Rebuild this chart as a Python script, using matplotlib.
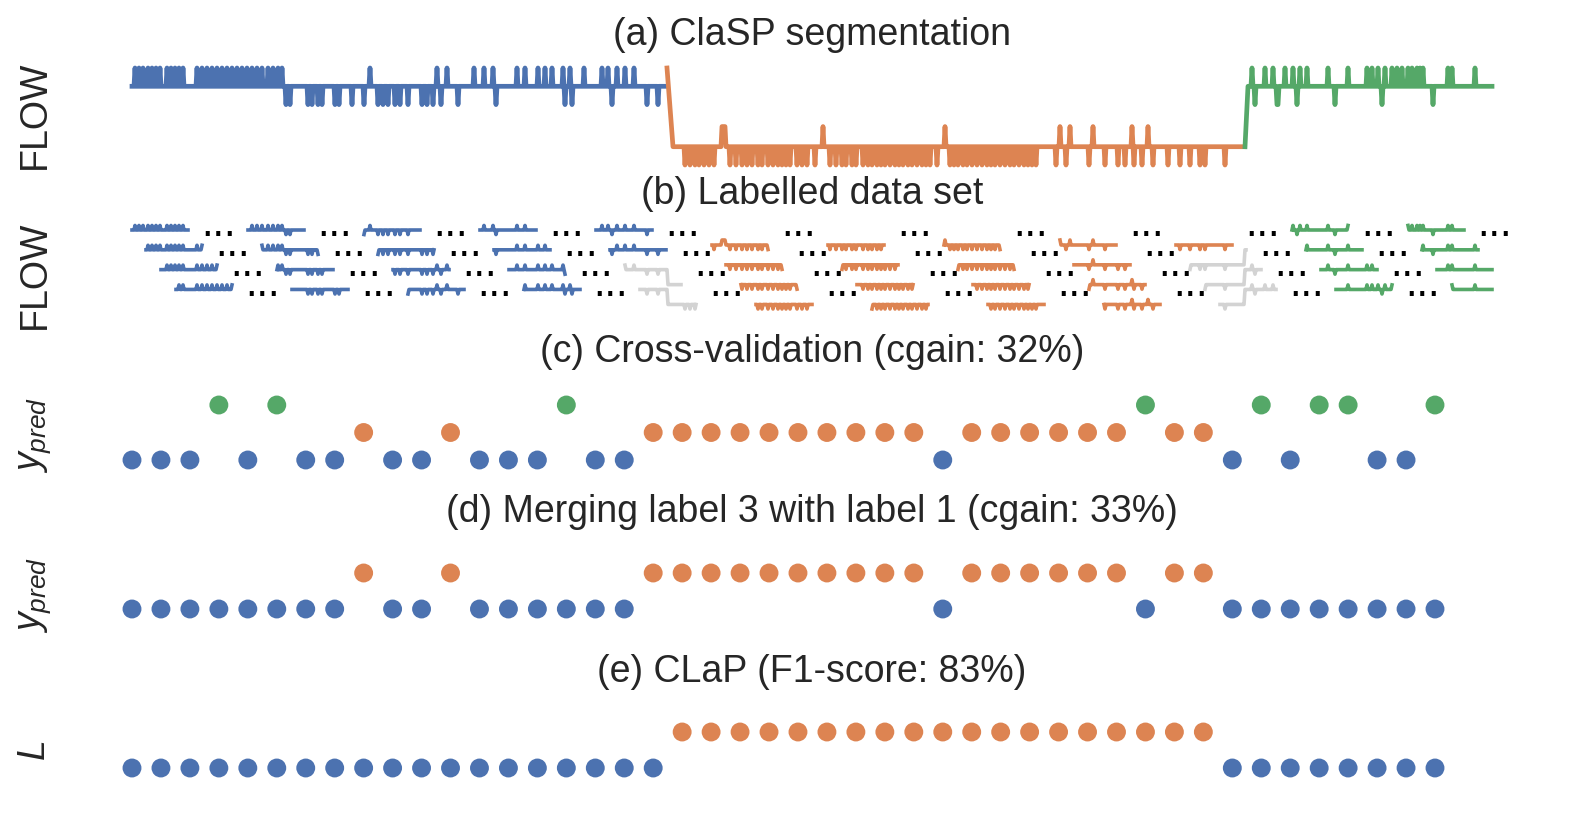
import numpy as np
import matplotlib
matplotlib.use("Agg")
import matplotlib.pyplot as plt

plt.rcParams['font.family'] = ['Liberation Sans', 'DejaVu Sans']
plt.rcParams['mathtext.fontset'] = 'custom'
plt.rcParams['mathtext.it'] = 'Liberation Sans:italic'
plt.rcParams['mathtext.rm'] = 'Liberation Sans'

BLUE, ORANGE, GREEN, GREY = "#4C72B0", "#DD8452", "#55A868", "#D3D3D3"
TEXT = "#262626"

# FLOW series; x in samples 0..1360
n_samples = 1360
change_points = [536, 1113]
seg_colors = [BLUE, ORANGE, GREEN]
seg_base = [1.0, -2.3, 1.0]
seg_high = [2.0, -1.2, 2.0]
seg_low = [0.0, -3.3, 0.0]

blue_up = [3, 7, 11, 16, 20, 24, 28, 35, 39, 43, 47, 51,
           65, 70, 75, 80, 85, 90, 95, 100, 105, 110, 115, 120, 125, 130, 136, 141, 146, 150,
           238, 305, 315, 342, 352, 361, 385, 393, 406, 413, 420, 431, 438, 452,
           470, 476, 485, 493, 502]
blue_down = [154, 158, 176, 180, 186, 190, 203, 207, 220, 232, 246, 251, 256, 263, 268, 276,
             290, 295, 301, 309, 326, 364, 433, 440, 480, 515, 526]
orange_up = [590, 591, 592, 593, 691, 813, 928, 938, 961, 1000, 1016]
orange_down = [553, 558, 563, 567, 572, 577, 582, 598, 604, 610, 615, 620, 626, 630, 636, 641,
               646, 650, 654, 658, 665, 670, 675, 683, 698, 704, 710, 714, 720, 724, 731, 736,
               740, 745, 749, 753, 758, 763, 767, 771, 776, 780, 785, 790, 794, 798, 805, 818,
               822, 826, 831, 835, 840, 845, 850, 855, 859, 863, 868, 873, 878, 882, 887, 892,
               896, 900, 904, 924, 934, 957, 973, 986, 993, 1002, 1010, 1021, 1036, 1048, 1058,
               1068, 1073, 1093]
green_up = [1120, 1133, 1141, 1153, 1161, 1168, 1175, 1196, 1216, 1235, 1240, 1246, 1253, 1260,
            1265, 1270, 1276, 1280, 1285, 1288, 1291, 1316, 1320, 1343]
green_down = [1123, 1145, 1146, 1165, 1203, 1250, 1301]

# where each segment line starts: (x, level) before it joins its own samples at x_join
seg_lead = [None, (535, 2.0, 541), (1113, -2.3, 1116)]

# labelled windows of panel (b)
win_len = 57
win_shift = 14.5
win_stride = 116
n_groups = 12
n_rows = 4

# per-window labels of panels (c)-(e): 1 = blue, 2 = orange, 3 = green
pred_cv = [1, 1, 1, 3, 1, 3, 1, 1, 2, 1, 1, 2, 1, 1, 1, 3, 1, 1, 2, 2, 2, 2, 2, 2,
           2, 2, 2, 2, 1, 2, 2, 2, 2, 2, 2, 3, 2, 2, 1, 3, 1, 3, 3, 1, 1, 3]
pred_merged = [1, 1, 1, 1, 1, 1, 1, 1, 2, 1, 1, 2, 1, 1, 1, 1, 1, 1, 2, 2, 2, 2, 2, 2,
               2, 2, 2, 2, 1, 2, 2, 2, 2, 2, 2, 1, 2, 2, 1, 1, 1, 1, 1, 1, 1, 1]
clap_labels = [1] * 19 + [2] * 19 + [1] * 8
label_colors = {1: BLUE, 2: ORANGE, 3: GREEN}

titles = ["(a) ClaSP segmentation", "(b) Labelled data set",
          "(c) Cross-validation (cgain: 32%)",
          "(d) Merging label 3 with label 1 (cgain: 33%)",
          "(e) CLaP (F1-score: 83%)"]
ylabels = ["FLOW", "FLOW", "$y_{pred}$", "$y_{pred}$", "$L$"]

# build the series from the read levels
t = np.arange(n_samples + 1)
ts = np.empty(n_samples + 1)
bounds = [0] + change_points + [n_samples + 1]
spikes = [(blue_up, blue_down), (orange_up, orange_down), (green_up, green_down)]
for k in range(3):
    ts[bounds[k]:bounds[k + 1]] = seg_base[k]
    ts[spikes[k][0]] = seg_high[k]
    ts[spikes[k][1]] = seg_low[k]

W, H = 1579, 825
fig = plt.figure(figsize=(W / 100, H / 100), dpi=100)


def px_axes(x0, x1, y0, y1, xlim, ylim):
    ax = fig.add_axes([x0 / W, 1 - y1 / H, (x1 - x0) / W, (y1 - y0) / H])
    ax.set_xlim(*xlim)
    ax.set_ylim(*ylim)
    ax.axis('off')
    return ax


# (a) segmentation
ax_a = px_axes(132, 1492, 68, 165, (0, n_samples), (-3.3, 2.0))
for k in range(3):
    if seg_lead[k] is None:
        xs, ys = t[bounds[k]:bounds[k + 1] - 1], ts[bounds[k]:bounds[k + 1] - 1]
    else:
        x_lead, y_lead, x_join = seg_lead[k]
        xs = np.r_[x_lead, t[x_join:bounds[k + 1]]]
        ys = np.r_[y_lead, ts[x_join:bounds[k + 1]]]
    ax_a.plot(xs, ys, color=seg_colors[k], lw=3.4, clip_on=False)

# (b) windows
ax_b = px_axes(132, 1492, 215, 310, (0, n_samples), (-16.6, 4.3))
row_gap = 4.36
dots_y = -0.43
for r in range(n_rows):
    for k in range(n_groups):
        s = int(round(k * win_stride + r * win_shift))
        e = min(s + win_len, n_samples + 1)
        seg_first = np.searchsorted(change_points, s, side='right')
        seg_last = np.searchsorted(change_points, e - 1, side='right')
        col = seg_colors[seg_first] if seg_first == seg_last else GREY
        ax_b.plot(t[s:e], ts[s:e] - r * row_gap, color=col, lw=2.6, clip_on=False)
        dot_x = s + win_len + (win_stride - win_len) / 2
        if dot_x < n_samples + 5:
            ax_b.text(dot_x, dots_y - r * row_gap, "...", ha='center', va='baseline',
                      fontsize=30, color='black', clip_on=False)

# (c)-(e) dot rows
dot_panels = [(pred_cv, 405, 460, (1, 3)), (pred_merged, 573, 609, (1, 2)),
              (clap_labels, 732, 768, (1, 2))]
for labels, y0, y1, ylim in dot_panels:
    ax = px_axes(132, 1435, y0, y1, (0, len(labels) - 1), ylim)
    idx = np.arange(len(labels))
    ax.scatter(idx, labels, c=[label_colors[v] for v in labels], s=185,
               linewidths=0, clip_on=False)

title_y = [35, 193.5, 352.5, 512.5, 671.5]
label_y = [115, 275, 435, 595, 751]
for txt, y in zip(titles, title_y):
    fig.text(812 / W, 1 - y / H, txt, ha='center', va='center', fontsize=27, color=TEXT)
for txt, y in zip(ylabels, label_y):
    fig.text(35 / W, 1 - y / H, txt, ha='center', va='center', rotation=90,
             fontsize=27, color=TEXT)

fig.savefig("out.png", dpi=100)
